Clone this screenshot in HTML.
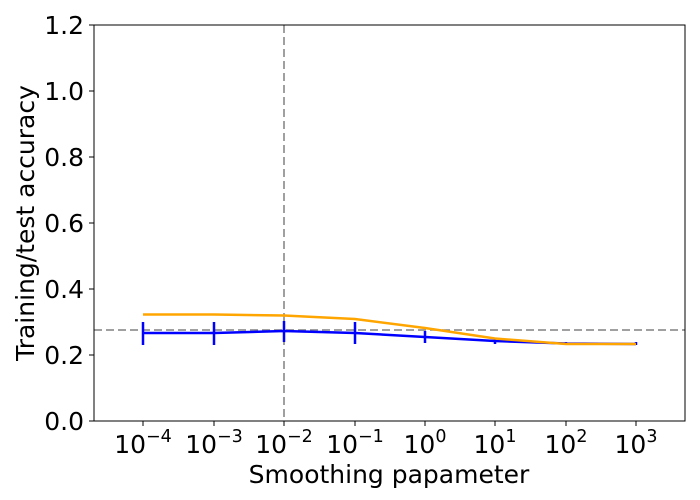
<!DOCTYPE html>
<html><head><meta charset="utf-8"><style>body{margin:0;background:#fff}svg{display:block}text{font-family:"DejaVu Sans","Liberation Sans",sans-serif;fill:#000}</style></head><body>
<svg width="700" height="500" xmlns="http://www.w3.org/2000/svg">
<line x1="94" y1="330" x2="685" y2="330" stroke="#808080" stroke-width="1.5" stroke-dasharray="8,4"/>
<line x1="284" y1="25" x2="284" y2="421" stroke="#808080" stroke-width="1.5" stroke-dasharray="8,4"/>
<g stroke="#0000ff" stroke-width="2.5">
<line x1="143" y1="322" x2="143" y2="345"/>
<line x1="214" y1="322" x2="214" y2="345"/>
<line x1="284" y1="321" x2="284" y2="342"/>
<line x1="355" y1="322" x2="355" y2="344"/>
<line x1="425" y1="331" x2="425" y2="343"/>
<line x1="495" y1="338" x2="495" y2="344"/>
<line x1="566" y1="342" x2="566" y2="345"/>
<line x1="636" y1="342" x2="636" y2="345"/>
</g>
<polyline fill="none" stroke="#0000ff" stroke-width="2.5" points="143,333 214,333 284,331 355,333 425,337 495,341 566,343.5 636,344"/>
<polyline fill="none" stroke="#ffa500" stroke-width="2.5" points="143,314.5 214,314.5 284,315.5 355,319 425,328 495,338.5 566,344 636,344"/>
<rect x="94" y="25" width="591" height="396" fill="none" stroke="#000" stroke-width="1"/>
<g stroke="#000">
<line x1="89" y1="421" x2="94" y2="421"/><line x1="89" y1="355" x2="94" y2="355"/><line x1="89" y1="289" x2="94" y2="289"/><line x1="89" y1="223" x2="94" y2="223"/><line x1="89" y1="157" x2="94" y2="157"/><line x1="89" y1="91" x2="94" y2="91"/><line x1="89" y1="25" x2="94" y2="25"/>
<line x1="143" y1="421" x2="143" y2="426"/><line x1="214" y1="421" x2="214" y2="426"/><line x1="284" y1="421" x2="284" y2="426"/><line x1="355" y1="421" x2="355" y2="426"/><line x1="425" y1="421" x2="425" y2="426"/><line x1="495" y1="421" x2="495" y2="426"/><line x1="566" y1="421" x2="566" y2="426"/><line x1="636" y1="421" x2="636" y2="426"/>
</g>
<g font-size="25" text-anchor="end">
<text x="84" y="430">0.0</text><text x="84" y="364">0.2</text><text x="84" y="298">0.4</text><text x="84" y="232">0.6</text><text x="84" y="166">0.8</text><text x="84" y="100">1.0</text><text x="84" y="34">1.2</text>
</g>
<g font-size="25" text-anchor="middle">
<text x="143" y="453">10<tspan dy="-11" font-size="17.5">−4</tspan></text>
<text x="214" y="453">10<tspan dy="-11" font-size="17.5">−3</tspan></text>
<text x="284" y="453">10<tspan dy="-11" font-size="17.5">−2</tspan></text>
<text x="355" y="453">10<tspan dy="-11" font-size="17.5">−1</tspan></text>
<text x="425" y="453">10<tspan dy="-11" font-size="17.5">0</tspan></text>
<text x="495" y="453">10<tspan dy="-11" font-size="17.5">1</tspan></text>
<text x="566" y="453">10<tspan dy="-11" font-size="17.5">2</tspan></text>
<text x="636" y="453">10<tspan dy="-11" font-size="17.5">3</tspan></text>
</g>
<text x="389" y="483" font-size="25" text-anchor="middle">Smoothing papameter</text>
<text transform="translate(34,223) rotate(-90)" font-size="25" text-anchor="middle">Training/test accuracy</text>
</svg>
</body></html>
